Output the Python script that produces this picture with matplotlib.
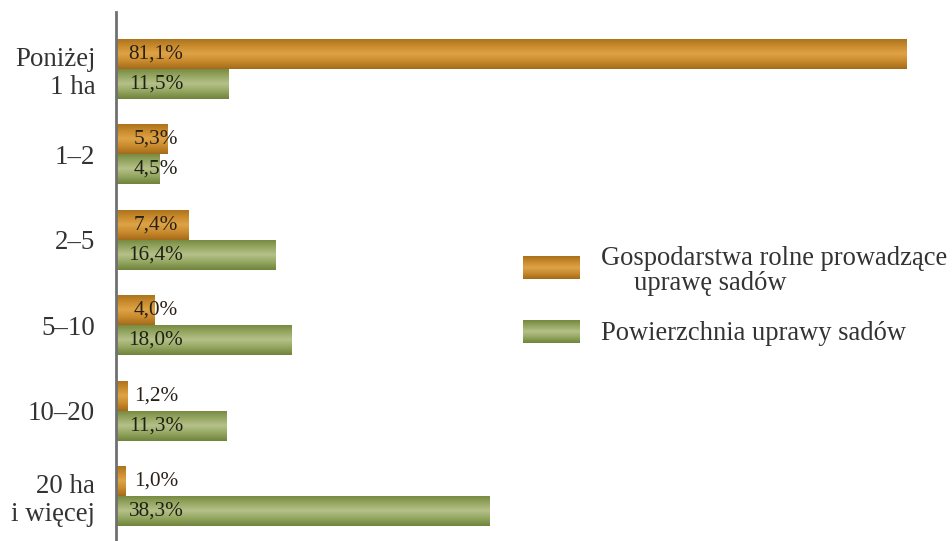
import numpy as np
import matplotlib
matplotlib.use("Agg")
import matplotlib.pyplot as plt
from matplotlib.colors import LinearSegmentedColormap

categories = ["Poniżej\n1 ha", "1–2", "2–5", "5–10", "10–20", "20 ha\ni więcej"]
farms = [81.1, 5.3, 7.4, 4.0, 1.2, 1.0]
area = [11.5, 4.5, 16.4, 18.0, 11.3, 38.3]
farm_labels = ["81,1%", "5,3%", "7,4%", "4,0%", "1,2%", "1,0%"]
area_labels = ["11,5%", "4,5%", "16,4%", "18,0%", "11,3%", "38,3%"]
series_names = ["Gospodarstwa rolne prowadzące\n     uprawę sadów", "Powierzchnia uprawy sadów"]

plt.rcParams['font.family'] = ['Liberation Serif', 'DejaVu Serif']

orange_cmap = LinearSegmentedColormap.from_list(
    "o", ["#a9711c", "#c98a2c", "#dda447", "#c98a2c", "#a36b1a"])
green_cmap = LinearSegmentedColormap.from_list(
    "g", ["#75883f", "#94a660", "#b6c18a", "#94a660", "#70843c"])

fig = plt.figure(figsize=(9.52, 5.41), dpi=100)
ax = fig.add_axes([116 / 952, 0, 1 - 116 / 952, 1 - 12 / 541])

y = np.arange(len(categories))
h = 0.352
grad = np.linspace(0, 1, 64).reshape(-1, 1)


def gradient_bars(bars, cmap):
    for b in bars:
        x0, y0 = b.get_x(), b.get_y()
        w, hh = b.get_width(), b.get_height()
        im = ax.imshow(grad, cmap=cmap, aspect='auto',
                       extent=(x0, x0 + w, y0 + hh, y0), zorder=2,
                       interpolation='bicubic')
        im.set_clip_path(b)


b1 = ax.barh(y - h / 2, farms, height=h, color="#c98a2c", zorder=1)
b2 = ax.barh(y + h / 2, area, height=h, color="#94a660", zorder=1)
gradient_bars(b1, orange_cmap)
gradient_bars(b2, green_cmap)

ax.set_xlim(0, 85.8)
ax.set_ylim(5.527, -0.667)

for i in range(len(categories)):
    ax.text(4.1, y[i] - h / 2, farm_labels[i], ha='center', va='center',
            fontsize=15.3, color='#2a2018', zorder=3)
    ax.text(4.1, y[i] + h / 2, area_labels[i], ha='center', va='center',
            fontsize=15.3, color='#1e2214', zorder=3)

ax.set_yticks(y)
ax.set_yticklabels(categories, fontsize=19.4, color='#333333',
                   linespacing=1.15)
ax.tick_params(axis='y', length=0, pad=15)
ax.set_xticks([])
for s in ['top', 'right', 'bottom']:
    ax.spines[s].set_visible(False)
ax.spines['left'].set_color('#707070')
ax.spines['left'].set_linewidth(2)

# legend
W, H = 952, 541
for (y_top, cmap, name, ty) in [(256, orange_cmap, series_names[0], 271),
                                (320, green_cmap, series_names[1], 333)]:
    lax = fig.add_axes([523 / W, 1 - (y_top + 23) / H, 57 / W, 23 / H])
    lax.imshow(grad, cmap=cmap, aspect='auto', extent=(0, 1, 1, 0),
               interpolation='bicubic')
    lax.set_xlim(0, 1)
    lax.set_ylim(1, 0)
    lax.axis('off')
    fig.text(601 / W, 1 - ty / H, name, fontsize=19.1, color='#333333',
             ha='left', va='center', linespacing=0.95)

fig.savefig("out.png", dpi=100)
